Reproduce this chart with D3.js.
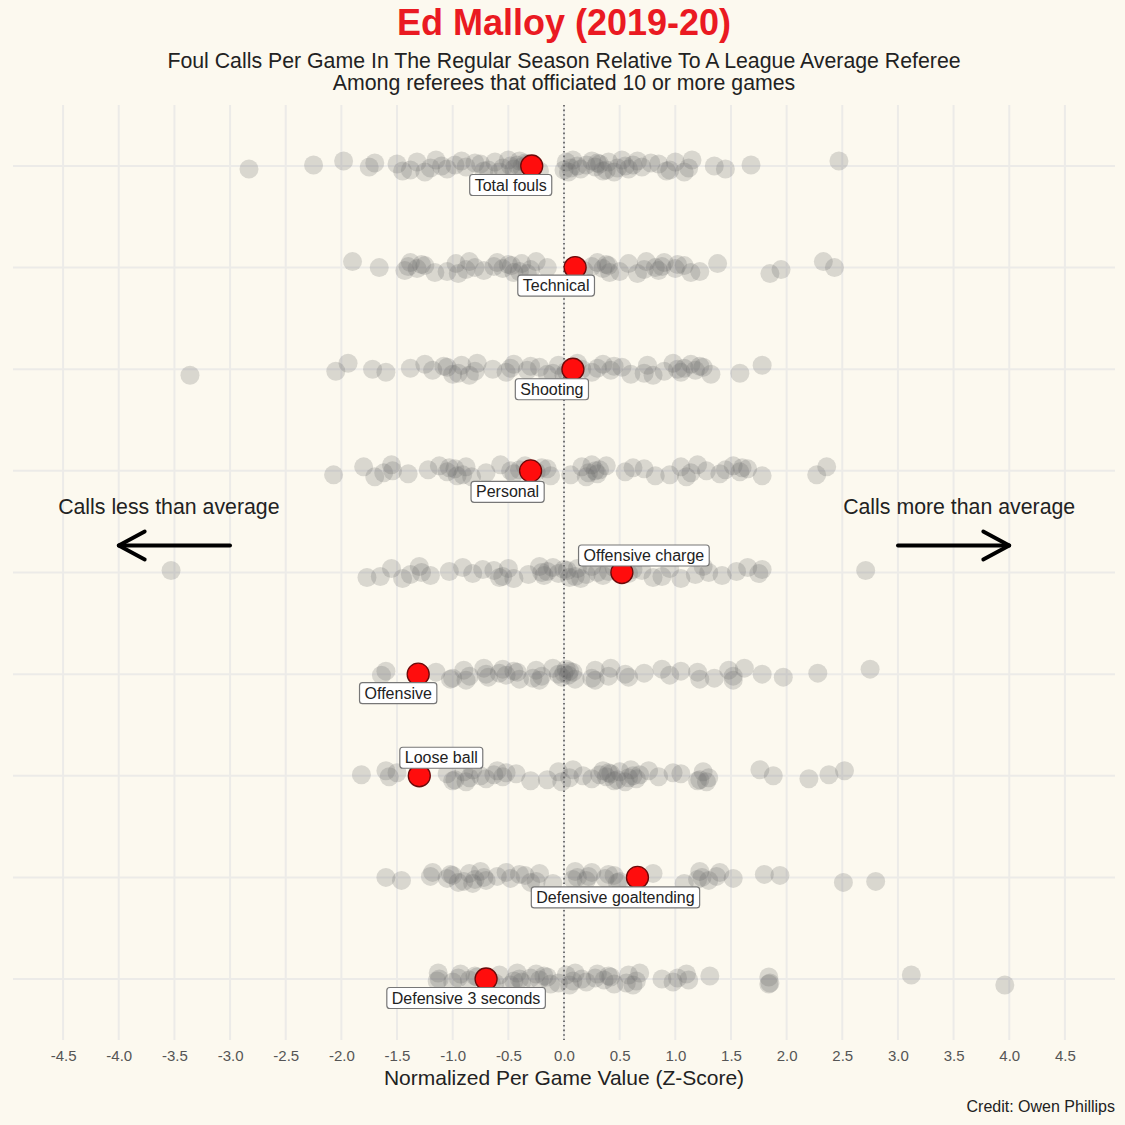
<!DOCTYPE html>
<html lang="en">
<head>
<meta charset="UTF-8">
<title>Ed Malloy (2019-20)</title>
<script src="https://d3js.org/d3.v7.min.js"></script>
<style>
  body { margin: 0; background: #fcf9ef; }
  svg { display: block; font-family: "Liberation Sans", Arial, sans-serif; }
</style>
</head>
<body>
<div id="chart"></div>
<script>
// categories, top to bottom
const categories = ["Total fouls", "Technical", "Shooting", "Personal", "Offensive charge",
  "Offensive", "Loose ball", "Defensive goaltending", "Defensive 3 seconds"];

// Ed Malloy's z-score per category
const malloyValues = [-0.29, 0.10, 0.08, -0.30, 0.52, -1.31, -1.30, 0.66, -0.70];

// all referees (10+ games), z-scores
const totalFouls = [-2.83, -2.25, -1.98, -1.75, -1.70, -1.50, -1.45, -1.38, -1.32, -1.25, -1.20, -1.15,
  -1.10, -1.05, -0.98, -0.92, -0.88, -0.80, -0.75, -0.72, -0.68, -0.62, -0.58, -0.55, -0.50, -0.48,
  -0.45, -0.42, -0.40, -0.38, -0.35, -0.33, -0.22, 0.0, 0.02, 0.04, 0.06, 0.08, 0.12, 0.15, 0.20, 0.25,
  0.28, 0.30, 0.32, 0.35, 0.38, 0.40, 0.45, 0.48, 0.52, 0.55, 0.58, 0.62, 0.66, 0.70, 0.78, 0.85, 0.92,
  0.95, 1.00, 1.08, 1.12, 1.15, 1.35, 1.45, 1.68, 2.47];
const technical = [-1.90, -1.66, -1.43, -1.40, -1.38, -1.32, -1.28, -1.25, -1.16, -1.05, -0.97, -0.95,
  -0.88, -0.85, -0.80, -0.72, -0.63, -0.60, -0.55, -0.50, -0.47, -0.45, -0.40, -0.38, -0.33, -0.30,
  -0.25, -0.15, 0.18, 0.25, 0.30, 0.35, 0.38, 0.40, 0.41, 0.50, 0.58, 0.66, 0.72, 0.74, 0.82, 0.85,
  0.88, 0.90, 1.00, 1.02, 1.08, 1.14, 1.22, 1.38, 1.85, 1.95, 2.33, 2.43];
const shooting = [-3.36, -2.05, -1.94, -1.72, -1.60, -1.38, -1.25, -1.18, -1.08, -1.05, -1.00, -0.95,
  -0.92, -0.85, -0.80, -0.78, -0.64, -0.52, -0.48, -0.45, -0.33, -0.30, -0.22, -0.15, -0.10, -0.05,
  0.0, 0.02, 0.12, 0.16, 0.25, 0.30, 0.35, 0.42, 0.45, 0.52, 0.60, 0.72, 0.75, 0.80, 0.90, 0.98, 1.02,
  1.05, 1.08, 1.14, 1.18, 1.22, 1.25, 1.32, 1.58, 1.78];
const personal = [-2.07, -1.80, -1.70, -1.62, -1.55, -1.54, -1.40, -1.22, -1.12, -1.05, -1.03, -0.98,
  -0.96, -0.91, -0.88, -0.83, -0.70, -0.57, -0.48, -0.45, -0.40, -0.35, -0.25, -0.20, -0.15, -0.12,
  0.06, 0.16, 0.20, 0.22, 0.25, 0.28, 0.30, 0.32, 0.38, 0.55, 0.62, 0.72, 0.82, 0.95, 1.05, 1.10, 1.14,
  1.20, 1.28, 1.40, 1.45, 1.52, 1.58, 1.60, 1.65, 1.78, 2.27, 2.36];
const offensiveCharge = [-3.53, -1.77, -1.65, -1.55, -1.45, -1.38, -1.30, -1.28, -1.20, -1.03, -0.91,
  -0.82, -0.73, -0.63, -0.58, -0.55, -0.50, -0.45, -0.32, -0.22, -0.20, -0.18, -0.15, -0.10, -0.05,
  0.0, 0.03, 0.05, 0.10, 0.12, 0.15, 0.20, 0.25, 0.30, 0.35, 0.40, 0.45, 0.58, 0.62, 0.70, 0.80, 0.88,
  0.95, 1.05, 1.18, 1.25, 1.30, 1.42, 1.55, 1.65, 1.75, 1.78, 2.71];
const offensive = [-1.64, -1.60, -1.15, -1.02, -1.00, -0.90, -0.88, -0.85, -0.72, -0.70, -0.68, -0.58,
  -0.55, -0.52, -0.45, -0.42, -0.40, -0.28, -0.25, -0.22, -0.20, -0.10, -0.05, -0.02, 0.0, 0.02, 0.04,
  0.05, 0.08, 0.10, 0.25, 0.28, 0.28, 0.40, 0.42, 0.55, 0.58, 0.72, 0.88, 0.95, 1.05, 1.20, 1.22, 1.35,
  1.48, 1.52, 1.52, 1.62, 1.78, 1.97, 2.28, 2.75];
const looseBall = [-1.82, -1.60, -1.57, -1.50, -1.05, -1.00, -0.98, -0.90, -0.88, -0.85, -0.82, -0.75,
  -0.70, -0.63, -0.60, -0.55, -0.52, -0.43, -0.30, -0.15, -0.05, -0.02, 0.05, 0.08, 0.17, 0.25, 0.32,
  0.35, 0.38, 0.40, 0.42, 0.45, 0.48, 0.50, 0.55, 0.58, 0.60, 0.62, 0.65, 0.68, 0.76, 0.85, 0.98, 1.05,
  1.20, 1.22, 1.25, 1.28, 1.30, 1.76, 1.88, 2.20, 2.38, 2.52];
const defGoaltending = [-1.60, -1.46, -1.20, -1.18, -1.05, -1.02, -1.00, -0.95, -0.90, -0.85, -0.82,
  -0.80, -0.75, -0.72, -0.70, -0.60, -0.52, -0.48, -0.40, -0.35, -0.30, -0.25, -0.22, -0.10, 0.08,
  0.10, 0.12, 0.20, 0.22, 0.25, 0.37, 0.40, 0.45, 0.48, 0.50, 0.80, 1.08, 1.20, 1.22, 1.24, 1.30, 1.37,
  1.40, 1.52, 1.80, 1.94, 2.51, 2.80];
const defThreeSeconds = [-1.14, -1.13, -1.12, -1.00, -0.95, -0.93, -0.85, -0.80, -0.78, -0.65, -0.62,
  -0.58, -0.48, -0.45, -0.42, -0.40, -0.38, -0.30, -0.25, -0.22, -0.18, -0.15, -0.12, -0.05, 0.02,
  0.05, 0.08, 0.10, 0.16, 0.20, 0.28, 0.30, 0.36, 0.40, 0.42, 0.45, 0.56, 0.58, 0.62, 0.65, 0.68, 0.88,
  0.98, 1.02, 1.10, 1.12, 1.31, 1.84, 1.84, 1.85, 3.12, 3.96];

const leagueValues = [totalFouls, technical, shooting, personal, offensiveCharge,
  offensive, looseBall, defGoaltending, defThreeSeconds];

const xTickValues = [-4.5, -4.0, -3.5, -3.0, -2.5, -2.0, -1.5, -1.0, -0.5, 0.0, 0.5, 1.0, 1.5, 2.0,
  2.5, 3.0, 3.5, 4.0, 4.5];

// label placement (pixel nudge from the red point), like ggrepel put them
const labelNudge = [[-21, 19], [-19, 18], [-21, 20], [-23, 21], [22, -17],
  [-20, 19], [22, -18], [-22, 20], [-20, 19]];

const W = 1125, H = 1125;
const panel = { left: 13, right: 1115, top: 105, bottom: 1040 };
const bg = "#fcf9ef";

const svg = d3.select("#chart").append("svg")
  .attr("width", W).attr("height", H);

svg.append("rect").attr("width", W).attr("height", H).attr("fill", bg);

const x = d3.scaleLinear().domain([-4.95, 4.95]).range([panel.left, panel.right]);
const y = d3.scalePoint().domain(categories).range([panel.top, panel.bottom]).padding(0.6);

// grid
const grid = svg.append("g");
grid.selectAll("line.v").data(xTickValues).enter().append("line")
  .attr("x1", d => x(d)).attr("x2", d => x(d))
  .attr("y1", panel.top).attr("y2", panel.bottom)
  .attr("stroke", "#ecebe8").attr("stroke-width", 2);
grid.selectAll("line.h").data(categories).enter().append("line")
  .attr("x1", panel.left).attr("x2", panel.right)
  .attr("y1", d => y(d)).attr("y2", d => y(d))
  .attr("stroke", "#ecebe8").attr("stroke-width", 2);

// zero line
svg.append("line")
  .attr("x1", x(0)).attr("x2", x(0))
  .attr("y1", panel.top).attr("y2", panel.bottom)
  .attr("stroke", "#555").attr("stroke-width", 1.6)
  .attr("stroke-dasharray", "1.6,3");

// league points with a fixed small vertical jitter (irregular repeating pattern)
const jitterPattern = [3, -4, 1, -6, 5, -1, 6, -3, 0, 4, -5, 2, -2];
const jitter = (i, r) => jitterPattern[(i * 5 + r * 3) % jitterPattern.length];
const pts = [];
leagueValues.forEach((vals, r) => {
  vals.forEach((v, i) => pts.push({ cat: categories[r], v, j: jitter(i, r) }));
});
svg.append("g").selectAll("circle").data(pts).enter().append("circle")
  .attr("cx", d => x(d.v))
  .attr("cy", d => y(d.cat) + d.j)
  .attr("r", 9.5)
  .attr("fill", "#666")
  .attr("fill-opacity", 0.23);

// Malloy points
const malloy = categories.map((c, i) => ({ cat: c, v: malloyValues[i], nudge: labelNudge[i] }));
svg.append("g").selectAll("circle").data(malloy).enter().append("circle")
  .attr("cx", d => x(d.v))
  .attr("cy", d => y(d.cat))
  .attr("r", 11)
  .attr("fill", "#ff0d0d")
  .attr("stroke", "#6b0a0a")
  .attr("stroke-width", 1.3);

// labels
const lab = svg.append("g").selectAll("g").data(malloy).enter().append("g")
  .attr("transform", d => `translate(${x(d.v) + d.nudge[0]},${y(d.cat) + d.nudge[1]})`);
lab.append("text")
  .attr("text-anchor", "middle")
  .attr("dy", "0.35em")
  .attr("font-size", 16)
  .attr("fill", "#222")
  .text(d => d.cat);
lab.each(function() {
  const g = d3.select(this);
  const w = g.select("text").node().getComputedTextLength();
  g.insert("rect", "text")
    .attr("x", -w / 2 - 5).attr("y", -10.5)
    .attr("width", w + 10).attr("height", 21)
    .attr("rx", 3).attr("ry", 3)
    .attr("fill", "#fff")
    .attr("stroke", "#777").attr("stroke-width", 1.2);
});

// x axis
const xAxis = svg.append("g")
  .attr("transform", `translate(0,${panel.bottom})`)
  .call(d3.axisBottom(x).tickValues(xTickValues).tickFormat(d => d.toFixed(1)).tickSize(0).tickPadding(10));
xAxis.select(".domain").remove();
xAxis.selectAll("text")
  .attr("font-size", 15)
  .attr("font-family", "Liberation Sans, Arial, sans-serif")
  .attr("fill", "#555");

svg.append("text")
  .attr("x", x(0)).attr("y", 1085)
  .attr("text-anchor", "middle")
  .attr("font-size", 21).attr("fill", "#222")
  .text("Normalized Per Game Value (Z-Score)");

svg.append("text")
  .attr("x", 1115).attr("y", 1112)
  .attr("text-anchor", "end")
  .attr("font-size", 16).attr("fill", "#222")
  .text("Credit: Owen Phillips");

// titles
svg.append("text")
  .attr("x", x(0)).attr("y", 35)
  .attr("text-anchor", "middle")
  .attr("font-size", 36).attr("font-weight", "bold")
  .attr("fill", "#ea1a22")
  .text("Ed Malloy (2019-20)");
svg.append("text")
  .attr("x", x(0)).attr("y", 68)
  .attr("text-anchor", "middle")
  .attr("font-size", 21.3).attr("fill", "#222")
  .text("Foul Calls Per Game In The Regular Season Relative To A League Average Referee");
svg.append("text")
  .attr("x", x(0)).attr("y", 90)
  .attr("text-anchor", "middle")
  .attr("font-size", 21.3).attr("fill", "#222")
  .text("Among referees that officiated 10 or more games");

// direction annotations
svg.append("text")
  .attr("x", x(-3.55)).attr("y", 514)
  .attr("text-anchor", "middle")
  .attr("font-size", 21.3).attr("fill", "#222")
  .text("Calls less than average");
svg.append("text")
  .attr("x", x(3.55)).attr("y", 514)
  .attr("text-anchor", "middle")
  .attr("font-size", 21.3).attr("fill", "#222")
  .text("Calls more than average");

function arrow(x1, x2, yy) {
  const dir = x2 > x1 ? -1 : 1;
  const g = svg.append("g").attr("stroke", "#000").attr("stroke-width", 3.8)
    .attr("fill", "none").attr("stroke-linecap", "round").attr("stroke-linejoin", "round");
  g.append("line").attr("x1", x1).attr("x2", x2).attr("y1", yy).attr("y2", yy);
  g.append("path").attr("d", `M${x2 + dir * 26},${yy - 14} L${x2},${yy} L${x2 + dir * 26},${yy + 14}`);
}
const arrowY = y("Offensive charge") - 27;
arrow(x(-3.0), x(-4.0), arrowY);
arrow(x(3.0), x(4.0), arrowY);
</script>
</body>
</html>
